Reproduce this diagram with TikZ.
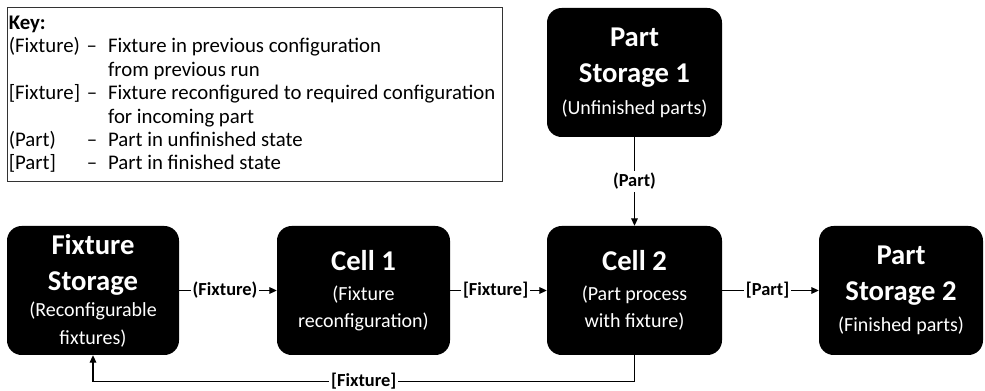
\documentclass[tikz,border=0pt]{standalone}
\usepackage{fontspec}
\setmainfont{Carlito}
\usetikzlibrary{arrows.meta,calc}

\newcommand\blocktitle{\fontsize{21.5}{27}\selectfont\bfseries}
\newcommand\blocksub{\fontsize{15}{18.5}\selectfont\mdseries}
\newcommand\flowtag{\fontsize{13.8}{16}\selectfont\bfseries}
\newcommand\keyfont{\fontsize{15.6}{17.6}\selectfont}

\begin{document}
\begin{tikzpicture}[x=0.75pt,y=-0.75pt,
  block/.style={fill=black, text=white, rounded corners=11pt, inner sep=0pt,
                minimum height=96.75pt, align=center, font=\blocktitle},
  flow/.style={draw=black, line width=0.8pt, -{Triangle[length=5.5pt,width=5pt]}},
  tag/.style={fill=white, inner sep=1.5pt, font=\flowtag},
  keyframe/.style={draw=black!80, line width=0.8pt, inner sep=0pt, anchor=north west}]

\useasboundingbox (0,0) rectangle (985,391);

% legend
\node[keyframe, minimum width=371.25pt, minimum height=130.5pt] (key) at (7,7) {};
\node[anchor=north west, inner sep=0pt, font=\keyfont] (keytext) at ($(key.north west)+(1.5,5.5)$)
  {\begin{tabular}{@{}p{58.5pt}@{}p{16pt}@{}l@{}}
    \textbf{Key:} & & \\
    (Fixture) & -- & Fixture in previous configuration \\
              &    & from previous run \\
    {[Fixture]} & -- & Fixture reconfigured to required configuration \\
              &    & for incoming part \\
    (Part)    & -- & Part in unfinished state \\
    {[Part]}  & -- & Part in finished state
   \end{tabular}};

% process blocks
\node[block, minimum width=129pt] (fs) at (93,290.5)
  {Fixture\\Storage\\[-7pt]{\blocksub (Reconfigurable}\\[-6.5pt]{\blocksub fixtures)}};
\node[block, minimum width=129.75pt] (c1) at (363.5,290.5)
  {Cell 1\\[-4.5pt]{\blocksub (Fixture}\\[-6.5pt]{\blocksub reconfiguration)}};
\node[block, minimum width=131.25pt] (c2) at (634.5,290.5)
  {Cell 2\\[-4.5pt]{\blocksub (Part process}\\[-6.5pt]{\blocksub with fixture)}};
\node[block, minimum width=131.25pt] (ps1) at (634.5,72.5)
  {Part\\Storage 1\\[-3pt]{\blocksub (Unfinished parts)}};
\node[block, minimum width=123pt] (ps2) at (901,290.5)
  {Part\\Storage 2\\[-4pt]{\blocksub (Finished parts)}};

% material flow
\draw[flow] (fs) -- node[tag, pos=0.47] {(Fixture)} (c1);
\draw[flow] (c1) -- node[tag, pos=0.47] {[Fixture]} (c2);
\draw[flow] (c2) -- node[tag, pos=0.47] {[Part]} (ps2);
\draw[flow] (ps1) -- node[tag] {(Part)} (c2);
\draw[flow] (c2.south) -- ++(0,26) -| node[tag, pos=0.25] {[Fixture]} (fs.south);

\end{tikzpicture}
\end{document}
